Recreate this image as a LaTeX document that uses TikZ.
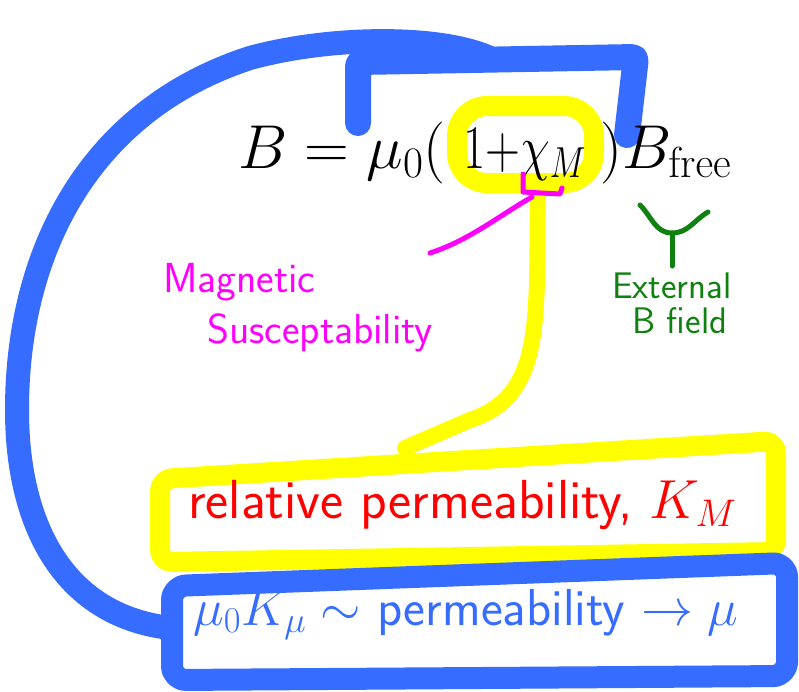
\RequirePackage{fix-cm}
\documentclass[tikz,border=0pt]{standalone}
\usepackage{amsmath,amssymb}
\usepackage{graphicx}
\usepackage{tikz}
\usetikzlibrary{positioning,calc}
\usepackage{xcolor}

\definecolor{penblue}{RGB}{54,108,255}
\definecolor{penyellow}{RGB}{255,255,0}
\definecolor{penmagenta}{RGB}{255,0,255}
\definecolor{pengreen}{RGB}{16,128,16}
\definecolor{penred}{RGB}{255,0,0}

\tikzset{
  bluepen/.style={draw=penblue, line width=22pt},
  yelpen/.style={draw=penyellow, line width=20pt},
  thinpen/.style={line width=5pt},
  eqtext/.style={inner sep=0pt, anchor=base west, font=\fontsize{62}{66}\selectfont},
  handtext/.style={inner sep=0pt, anchor=base west, font=\sffamily\fontsize{#1}{#1}\selectfont},
}

\begin{document}
\begin{tikzpicture}[x=1pt, y=-1pt, line cap=round, line join=round]
\useasboundingbox (0,0) rectangle (799,691);

  % Define coordinates for the sketch
\coordinate (yTL) at (160,479); \coordinate (yTR) at (776,441); \coordinate (yBR) at (776,552); \coordinate (yBL) at (160,562); \coordinate (bTL) at (172,586); \coordinate (bTR) at (787,563); \coordinate (bBR) at (787,676); \coordinate (bBL) at (172,680); \coordinate (loopA) at (170,628); \coordinate (loopB) at (490,58); \coordinate (brkL) at (358,123); \coordinate (brkR) at (627,135); \coordinate (ringLow) at (538,190); \coordinate (ringJoin) at (405,448); \coordinate (suscEnd) at (430,253); \coordinate (chiMark) at (532,197); \coordinate (freeL) at (640,205); \coordinate (freeR) at (708,212); \coordinate (freeMid) at (672,233); \coordinate (extTop) at (672,266);

  % Yellow: relative permeability
\draw[yelpen, rounded corners=12pt] (yTL) -- (yTR) -- (yBR) -- (yBL) -- cycle;
\draw[yelpen, line width=16pt] (ringLow) .. controls (536,320) and (545,395) .. (470,420) -- (ringJoin);
\draw[yelpen, rounded corners=30pt] (457,106) rectangle (594,183);

  % Blue: permeability loop
\draw[bluepen, rounded corners=14pt] (bTL) -- (bTR) -- (bBR) -- (bBL) -- cycle;
\draw[bluepen, line width=24pt] (loopA) .. controls (60,615) and (17,520) .. (17,410) .. controls (17,250) and (90,110) .. (250,58) .. controls (330,36) and (440,35) .. (loopB);
\draw[bluepen, line width=26pt, rounded corners=4pt] (brkL) -- (358,62) -- (636,57) -- (brkR);

  % Equation
\node[eqtext] (eqL) at (238,168) {$B=\mu_0($}; \node[eqtext] (eqM) at (463,168) {\scalebox{0.78}[1]{$1{+}\chi_M$}}; \node[eqtext] (eqR) at (600,168) {$)B_{\mathrm{free}}$};

  % Labels
\node[handtext=42, text=penmagenta] (magn) at (163,292) {Magnetic}; \node[handtext=42, text=penmagenta] (susc) at (207,343) {Susceptability}; \node[handtext=37, text=pengreen] (ext) at (612,298) {External}; \node[handtext=37, text=pengreen] (bfield) at (632,333) {B field}; \node[handtext=55, text=penred] (relperm) at (188,518) {relative permeability, $K_M$}; \node[handtext=52, text=penblue] (perm) at (193,625) {$\mu_0K_\mu\sim$ permeability $\rightarrow\mu$};

  % Pointers
\draw[thinpen, penmagenta] (523,174) -- (523,192) -- (560,194) -- (562,188); \draw[thinpen, penmagenta] (chiMark) .. controls (500,215) and (470,240) .. (suscEnd); \draw[thinpen, pengreen] (freeL) to[out=-45, in=180] (freeMid) to[out=0, in=-150] (freeR); \draw[thinpen, pengreen] (freeMid) -- (extTop);

\end{tikzpicture}
\end{document}
